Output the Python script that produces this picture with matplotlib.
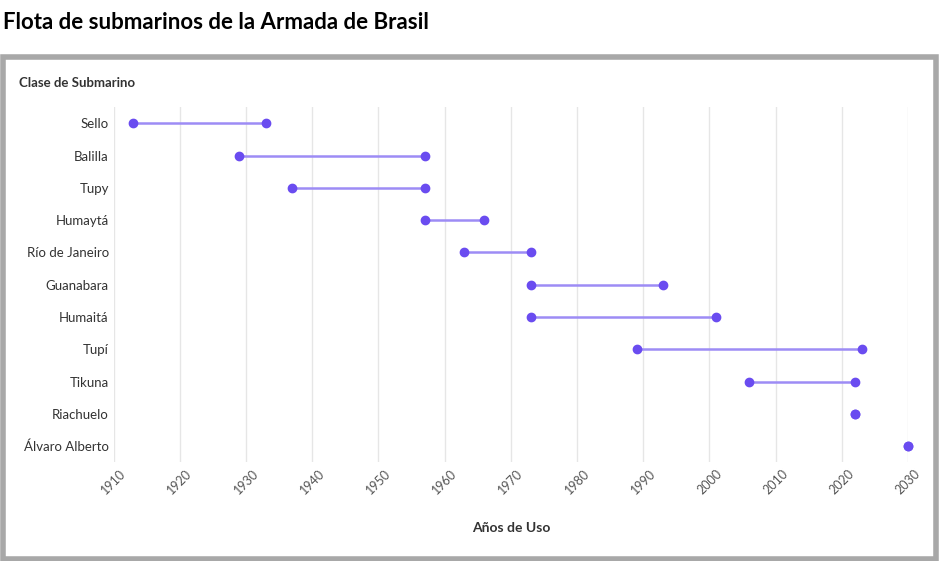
import matplotlib.pyplot as plt
from matplotlib.patches import Rectangle

clases = ["Sello", "Balilla", "Tupy", "Humaytá", "Río de Janeiro", "Guanabara",
          "Humaitá", "Tupí", "Tikuna", "Riachuelo", "Álvaro Alberto"]
inicio = [1913, 1929, 1937, 1957, 1963, 1973, 1973, 1989, 2006, 2022, 2030]
fin = [1933, 1957, 1957, 1966, 1973, 1993, 2001, 2023, 2022, 2022, 2030]
ticks = list(range(1910, 2031, 10))

color = "#6a4cf0"
linecolor = "#9d8cf5"

fig = plt.figure(figsize=(9.39, 5.61), dpi=100)
plt.rcParams["font.family"] = "Lato"

# gray frame
fig.patches.append(Rectangle((0.003, 0.003), 0.994, 0.895, transform=fig.transFigure,
                             fill=False, edgecolor="#a8a8a8", linewidth=4))
fig.text(0.003, 0.96, "Flota de submarinos de la Armada de Brasil", fontsize=16,
         fontweight="bold", ha="left", va="center")
fig.text(0.02, 0.852, "Clase de Submarino", fontsize=9.5, fontweight="bold",
         color="#333333", ha="left", va="center")

ax = fig.add_axes([0.121, 0.176, 0.846, 0.633])
y = list(range(len(clases)))
for i in y:
    ax.plot([inicio[i], fin[i]], [i, i], color=linecolor, lw=1.8, zorder=2)
ax.scatter(inicio, y, color=color, s=36, zorder=3, clip_on=False)
ax.scatter(fin, y, color=color, s=36, zorder=3, clip_on=False)

ax.set_xlim(1910, 2030)
ax.set_ylim(len(clases) - 0.5, -0.5)
ax.set_yticks(y)
ax.set_yticklabels(clases, fontsize=9.5, color="#333333")
ax.set_xticks(ticks)
ax.set_xticklabels([str(t) for t in ticks], rotation=45, fontsize=9, color="#555555")
ax.grid(axis="x", color="#e6e6e6", lw=1)
ax.set_axisbelow(True)
for s in ax.spines.values():
    s.set_visible(False)
ax.tick_params(length=0)
ax.tick_params(axis="x", pad=4)
ax.set_xlabel("Años de Uso", fontsize=10, fontweight="bold", color="#333333", labelpad=18)

fig.savefig("out.png", dpi=100)
